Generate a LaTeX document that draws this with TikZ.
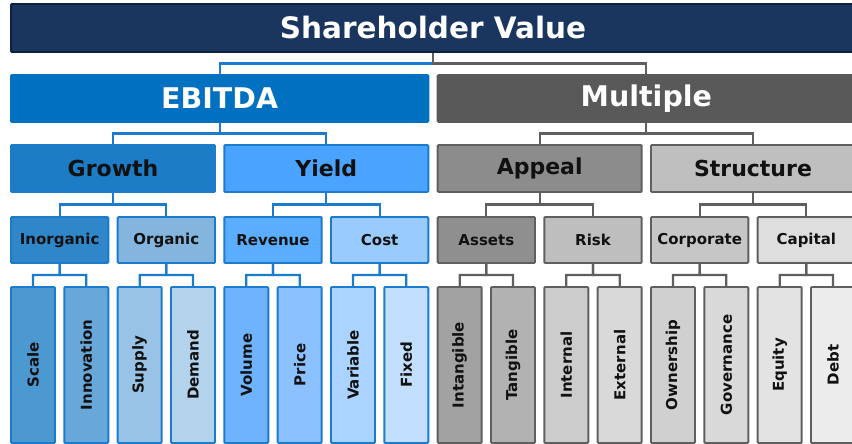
\documentclass[tikz,border=0pt]{standalone}
\usepackage{fontspec}
\setmainfont{DejaVu Sans}
\usetikzlibrary{calc}
\definecolor{topfill}{HTML}{1A365E}
\definecolor{topdraw}{HTML}{0E2240}
\definecolor{ebfill}{HTML}{0070C0}
\definecolor{mufill}{HTML}{595959}
\definecolor{bdrb}{HTML}{1B7BCC}
\definecolor{bdrg}{HTML}{5F5F5F}
\definecolor{cgrowth}{HTML}{1C7CC6}
\definecolor{cyield}{HTML}{4AA3FF}
\definecolor{cappeal}{HTML}{8C8C8C}
\definecolor{cstructure}{HTML}{BFBFBF}
\definecolor{cinorganic}{HTML}{2F86C9}
\definecolor{corganic}{HTML}{84B5DE}
\definecolor{crevenue}{HTML}{5BAEFF}
\definecolor{ccost}{HTML}{99CBFF}
\definecolor{cassets}{HTML}{8F8F8F}
\definecolor{crisk}{HTML}{BEBEBE}
\definecolor{ccorporate}{HTML}{C6C6C6}
\definecolor{ccapital}{HTML}{DEDEDE}
\definecolor{cscale}{HTML}{4C98D1}
\definecolor{cinnovation}{HTML}{67A7D9}
\definecolor{csupply}{HTML}{98C3E6}
\definecolor{cdemand}{HTML}{B3D2EC}
\definecolor{cvolume}{HTML}{6FB3FF}
\definecolor{cprice}{HTML}{8BC1FF}
\definecolor{cvariable}{HTML}{ABD3FF}
\definecolor{cfixed}{HTML}{C3DFFF}
\definecolor{cintangible}{HTML}{A2A2A2}
\definecolor{ctangible}{HTML}{B2B2B2}
\definecolor{cinternal}{HTML}{CCCCCC}
\definecolor{cexternal}{HTML}{D9D9D9}
\definecolor{cownership}{HTML}{D0D0D0}
\definecolor{cgovernance}{HTML}{D9D9D9}
\definecolor{cequity}{HTML}{E3E3E3}
\definecolor{cdebt}{HTML}{ECECEC}
\definecolor{txt}{HTML}{111111}
\newcommand\bx[7]{%
  \pgfmathsetmacro\bxl{11+53.333*#2}%
  \pgfmathsetmacro\bxw{53.333*#3-9.33}%
  \pgfmathsetmacro\bxc{\bxl+\bxw/2}%
  \node[box,#6,minimum width=\bxw pt,minimum height=#5pt] (#1) at (\bxc,#4) {#7};}
\newcommand\lf[3]{\bx{#1}{#2}{1}{365}{156}{leaf,#3}{\rotatebox{90}{#1}}}
\begin{document}
\begin{tikzpicture}[x=1pt,y=-1pt,
  box/.style={rectangle,draw,line width=1.9pt,rounded corners=1pt,inner sep=0pt,font=\bfseries,text=txt},
  bluebox/.style={draw=bdrb},
  graybox/.style={draw=bdrg},
  lvtop/.style={fill=topfill,draw=topdraw,text=white,font=\bfseries\fontsize{29.5}{30}\selectfont},
  lvtwo/.style={text=white,font=\bfseries\fontsize{28.5}{30}\selectfont},
  lvthree/.style={font=\bfseries\fontsize{22}{24}\selectfont},
  lvfour/.style={font=\bfseries\fontsize{15}{17}\selectfont},
  leaf/.style={font=\bfseries\fontsize{15}{17}\selectfont},
  conn/.style={line width=2.2pt},
  bconn/.style={conn,draw=bdrb},
  gconn/.style={conn,draw=bdrg}]
\useasboundingbox (0,0) rectangle (852,444);
% level 1
\bx{top}{0}{16}{28}{48}{lvtop}{Shareholder Value}
% level 2
\bx{ebitda}{0}{8}{98.5}{47}{lvtwo,fill=ebfill,draw=ebfill}{EBITDA}
\bx{multiple}{8}{8}{98.5}{47}{lvtwo,fill=mufill,draw=mufill}{Multiple}
% level 3
\bx{growth}{0}{4}{168.5}{47}{lvthree,bluebox,fill=cgrowth}{Growth}
\bx{yield}{4}{4}{168.5}{47}{lvthree,bluebox,fill=cyield}{Yield}
\bx{appeal}{8}{4}{168.5}{47}{lvthree,graybox,fill=cappeal}{Appeal}
\bx{structure}{12}{4}{168.5}{47}{lvthree,graybox,fill=cstructure}{Structure}
% level 4
\bx{inorganic}{0}{2}{240}{46}{lvfour,bluebox,fill=cinorganic}{Inorganic}
\bx{organic}{2}{2}{240}{46}{lvfour,bluebox,fill=corganic}{Organic}
\bx{revenue}{4}{2}{240}{46}{lvfour,bluebox,fill=crevenue}{Revenue}
\bx{cost}{6}{2}{240}{46}{lvfour,bluebox,fill=ccost}{Cost}
\bx{assets}{8}{2}{240}{46}{lvfour,graybox,fill=cassets}{Assets}
\bx{risk}{10}{2}{240}{46}{lvfour,graybox,fill=crisk}{Risk}
\bx{corporate}{12}{2}{240}{46}{lvfour,graybox,fill=ccorporate}{Corporate}
\bx{capital}{14}{2}{240}{46}{lvfour,graybox,fill=ccapital}{Capital}
% leaves
\lf{Scale}{0}{bluebox,fill=cscale}
\lf{Innovation}{1}{bluebox,fill=cinnovation}
\lf{Supply}{2}{bluebox,fill=csupply}
\lf{Demand}{3}{bluebox,fill=cdemand}
\lf{Volume}{4}{bluebox,fill=cvolume}
\lf{Price}{5}{bluebox,fill=cprice}
\lf{Variable}{6}{bluebox,fill=cvariable}
\lf{Fixed}{7}{bluebox,fill=cfixed}
\lf{Intangible}{8}{graybox,fill=cintangible}
\lf{Tangible}{9}{graybox,fill=ctangible}
\lf{Internal}{10}{graybox,fill=cinternal}
\lf{External}{11}{graybox,fill=cexternal}
\lf{Ownership}{12}{graybox,fill=cownership}
\lf{Governance}{13}{graybox,fill=cgovernance}
\lf{Equity}{14}{graybox,fill=cequity}
\lf{Debt}{15}{graybox,fill=cdebt}
% connectors
\newcommand\cn[3]{\draw[#1] (#2.south) -- ($(#2.south)!.5!(#2.south |- #3.north)$) -| (#3.north);}
\cn{bconn}{top}{ebitda}
\cn{gconn}{top}{multiple}
\cn{bconn}{ebitda}{growth}\cn{bconn}{ebitda}{yield}
\cn{gconn}{multiple}{appeal}\cn{gconn}{multiple}{structure}
\cn{bconn}{growth}{inorganic}\cn{bconn}{growth}{organic}
\cn{bconn}{yield}{revenue}\cn{bconn}{yield}{cost}
\cn{gconn}{appeal}{assets}\cn{gconn}{appeal}{risk}
\cn{gconn}{structure}{corporate}\cn{gconn}{structure}{capital}
\cn{bconn}{inorganic}{Scale}\cn{bconn}{inorganic}{Innovation}
\cn{bconn}{organic}{Supply}\cn{bconn}{organic}{Demand}
\cn{bconn}{revenue}{Volume}\cn{bconn}{revenue}{Price}
\cn{bconn}{cost}{Variable}\cn{bconn}{cost}{Fixed}
\cn{gconn}{assets}{Intangible}\cn{gconn}{assets}{Tangible}
\cn{gconn}{risk}{Internal}\cn{gconn}{risk}{External}
\cn{gconn}{corporate}{Ownership}\cn{gconn}{corporate}{Governance}
\cn{gconn}{capital}{Equity}\cn{gconn}{capital}{Debt}
\end{tikzpicture}
\end{document}
